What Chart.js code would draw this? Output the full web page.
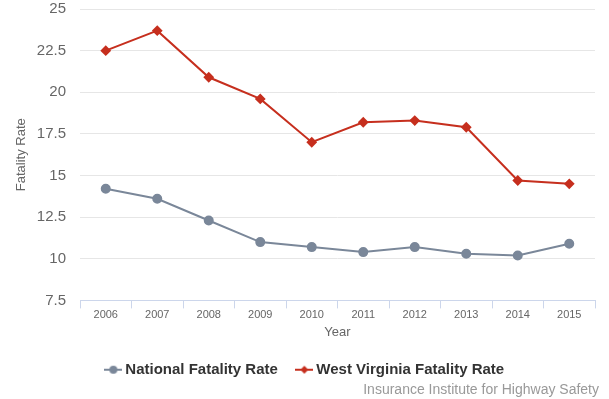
<!DOCTYPE html>
<html>
<head>
<meta charset="utf-8">
<script src="https://cdn.jsdelivr.net/npm/chart.js@4/dist/chart.umd.min.js"></script>
<style>
html,body{margin:0;padding:0;background:#fff;}
#wrap{width:609px;height:399px;}
</style>
</head>
<body>
<div id="wrap"><canvas id="c" width="609" height="399"></canvas></div>
<script>
const years = ['2006','2007','2008','2009','2010','2011','2012','2013','2014','2015'];
const nationalRate = [14.2, 13.6, 12.3, 11.0, 10.7, 10.4, 10.7, 10.3, 10.2, 10.9];
const wvRate = [22.5, 23.7, 20.9, 19.6, 17.0, 18.2, 18.3, 17.9, 14.7, 14.5];
const seriesNames = ['National Fatality Rate', 'West Virginia Fatality Rate'];
const seriesColors = ['#7a8799', '#c62f1e'];

const FONT = "'Liberation Sans', Arial, sans-serif";

function legendIcon(color, style) {
  const cv = document.createElement('canvas');
  cv.width = 18; cv.height = 10;
  const ctx = cv.getContext('2d');
  ctx.strokeStyle = color; ctx.lineWidth = 2;
  ctx.beginPath(); ctx.moveTo(0, 5); ctx.lineTo(18, 5); ctx.stroke();
  ctx.fillStyle = color;
  ctx.beginPath();
  if (style === 'circle') { ctx.arc(9, 5, 4, 0, Math.PI * 2); }
  else { ctx.moveTo(9, 1); ctx.lineTo(13, 5); ctx.lineTo(9, 9); ctx.lineTo(5, 5); ctx.closePath(); }
  ctx.fill();
  return cv;
}
const icons = [legendIcon(seriesColors[0], 'circle'), legendIcon(seriesColors[1], 'diamond')];

new Chart(document.getElementById('c'), {
  type: 'line',
  data: {
    labels: years,
    datasets: [
      { label: seriesNames[0], data: nationalRate, borderColor: seriesColors[0], backgroundColor: seriesColors[0],
        borderWidth: 2, pointStyle: 'circle', pointRadius: 4, pointHoverRadius: 5, tension: 0 },
      { label: seriesNames[1], data: wvRate, borderColor: seriesColors[1], backgroundColor: seriesColors[1],
        borderWidth: 2, pointStyle: 'rectRot', pointRadius: 4, pointHoverRadius: 5, tension: 0 }
    ]
  },
  options: {
    responsive: false,
    animation: false,
    layout: { padding: { left: 14, right: 10, top: 9, bottom: 0 } },
    scales: {
      x: {
        offset: true,
        grid: { display: true, drawOnChartArea: false, offset: true, color: '#ccd6eb', tickLength: 8, lineWidth: 1 },
        border: { display: true, color: '#ccd6eb' },
        ticks: { color: '#666', font: { family: FONT, size: 11 }, padding: 0 },
        title: { display: true, text: 'Year', color: '#666', font: { family: FONT, size: 13 }, padding: { top: 3, bottom: 0 } }
      },
      y: {
        min: 7.5, max: 25,
        ticks: { stepSize: 2.5, color: '#666', font: { family: FONT, size: 15 }, padding: 14 },
        grid: { color: '#e6e6e6', drawTicks: false },
        border: { display: false },
        title: { display: true, text: 'Fatality Rate', color: '#666', font: { family: FONT, size: 13 }, padding: { top: 0, bottom: 8 } },
        afterFit(scale) { scale.width = 66; scale.paddingTop = 0; scale.paddingBottom = 0; }
      },
      yr: {
        position: 'right',
        display: true,
        grid: { display: false },
        border: { display: false },
        ticks: { display: false },
        afterFit(scale) { scale.width = 4; scale.paddingTop = 0; scale.paddingBottom = 0; }
      }
    },
    plugins: {
      legend: {
        position: 'bottom',
        labels: {
          usePointStyle: true,
          boxWidth: 9,
          color: '#333',
          font: { family: FONT, size: 15, weight: 'bold' },
          padding: 22,
          generateLabels(chart) {
            const items = Chart.defaults.plugins.legend.labels.generateLabels(chart);
            items.forEach((it, i) => { it.pointStyle = icons[i]; });
            return items;
          }
        }
      },
      subtitle: {
        display: true,
        position: 'bottom',
        align: 'end',
        text: 'Insurance Institute for Highway Safety',
        color: '#999',
        font: { family: FONT, size: 14, weight: 'normal' },
        padding: { top: -5, bottom: 0 }
      },
      tooltip: { enabled: false }
    }
  }
});
</script>
</body>
</html>
